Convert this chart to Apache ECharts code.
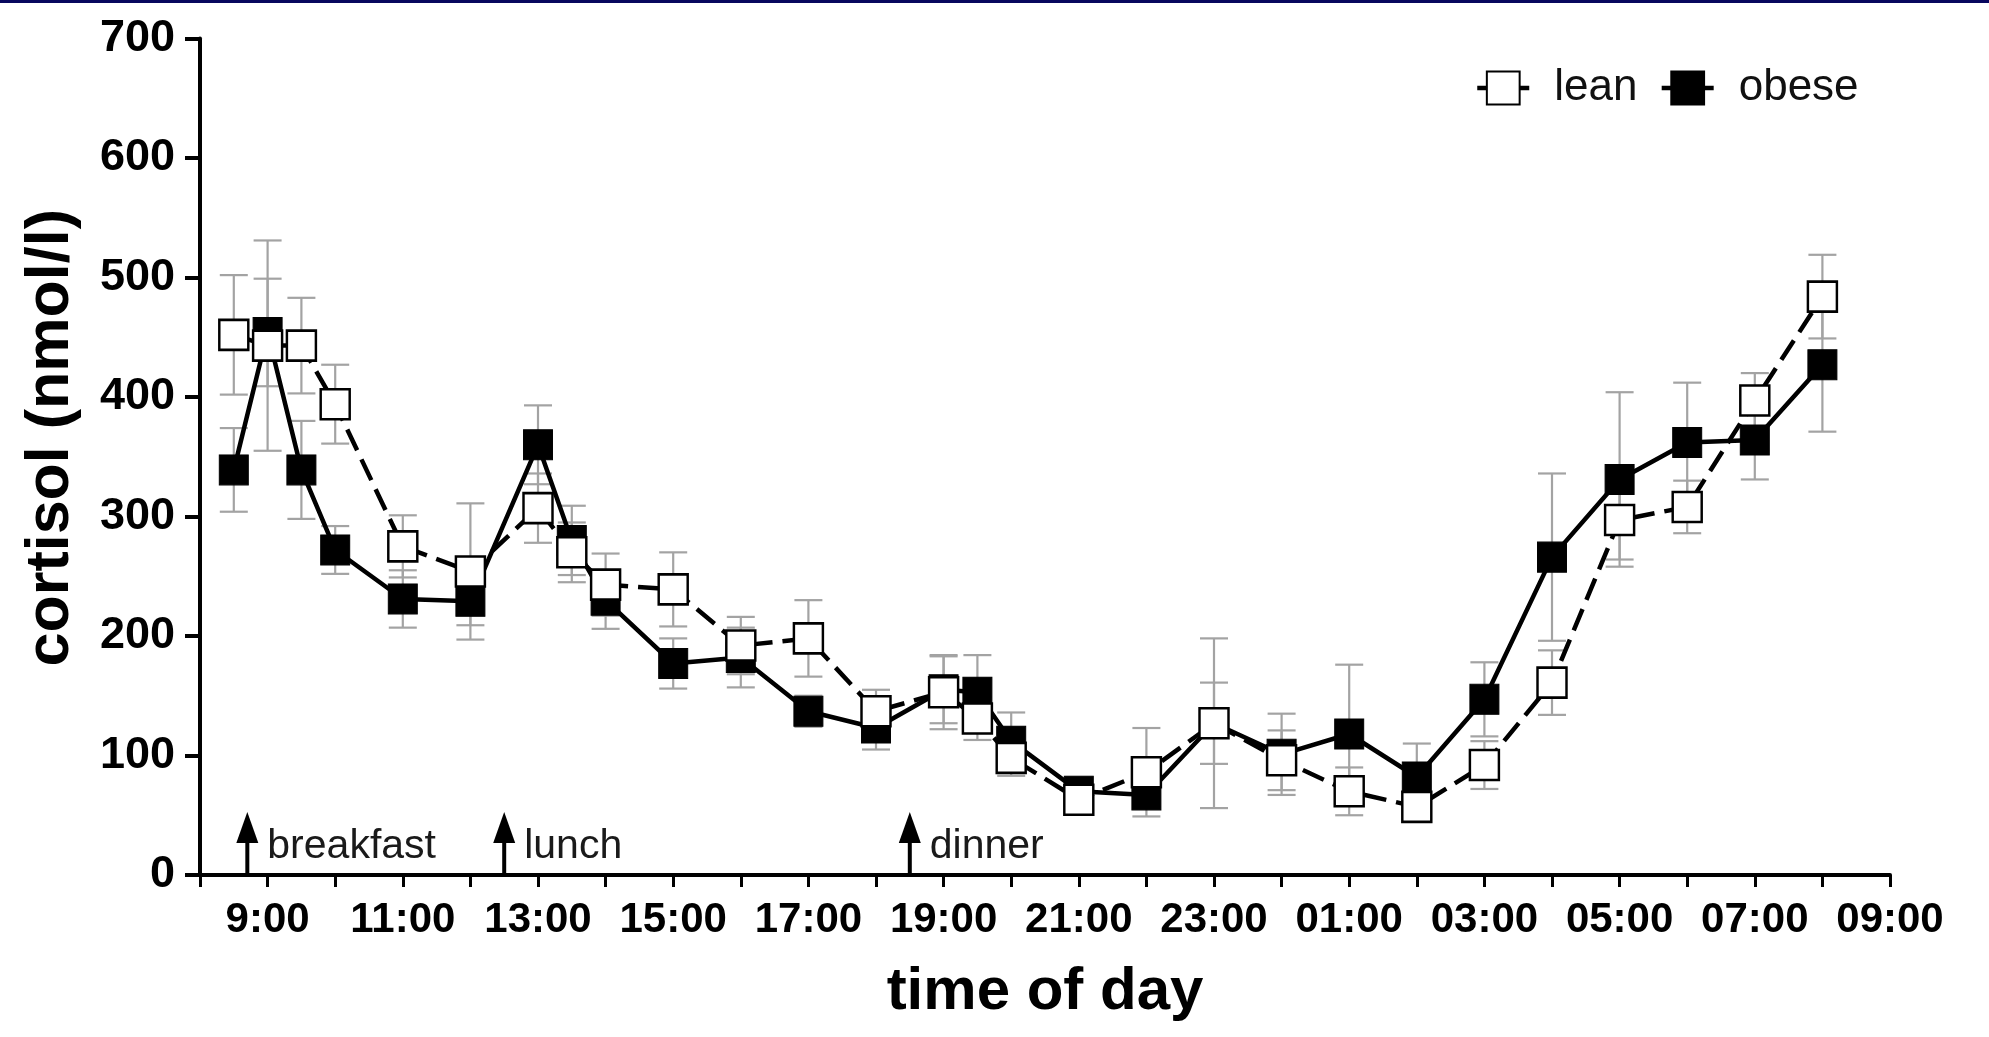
<!DOCTYPE html>
<html><head><meta charset="utf-8">
<script src="https://cdn.jsdelivr.net/npm/echarts@6/dist/echarts.min.js"></script>
<style>html,body{margin:0;padding:0;background:#fff}#c{width:1989px;height:1037px}</style>
</head><body><div id="c"></div>
<script>
// ---- data ----
const hours = [8.5,9,9.5,10,11,12,13,13.5,14,15,16,17,18,19,19.5,20,21,22,23,24,25,26,27,28,29,30,31,32];
const leanMean  = [452,443,443,394,275,254,307,270,243,239,192,198,137,153,131,98,63,86,127,96,70,57,92,161,297,308,397,484];
const leanSem   = [50,88,40,33,26,57,29,25,26,31,24,32,18,31,18,15,12,37,71,25,20,10,20,27,33,22,23,35];
const obeseMean = [339,454,339,272,231,229,360,280,230,177,182,137,123,155,153,112,70,67,127,101,118,82,147,266,331,362,364,427];
const obeseSem  = [35,45,41,20,24,20,33,29,24,21,25,13,18,28,31,24,12,10,34,34,58,28,31,70,73,50,33,56];
const xTickHours  = [9,11,13,15,17,19,21,23,25,27,29,31,33];
const xTickLabels = ['9:00','11:00','13:00','15:00','17:00','19:00','21:00','23:00','01:00','03:00','05:00','07:00','09:00'];
const mealHours  = [8.7,12.5,18.5];
const mealLabels = ['breakfast','lunch','dinner'];

// ---- chart ----
const FONT = 'Arial, "Liberation Sans", sans-serif';
const chart = echarts.init(document.getElementById('c'), null, {renderer:'canvas'});

function errRender(params, api) {
  const x = api.value(0), lo = api.value(1), hi = api.value(2);
  const pHi = api.coord([x, hi]), pLo = api.coord([x, lo]);
  const hw = 14;
  const st = {stroke:'#a3a3a3', lineWidth:2.2};
  return {type:'group', children:[
    {type:'line', shape:{x1:pHi[0],y1:pHi[1],x2:pLo[0],y2:pLo[1]}, style:st},
    {type:'line', shape:{x1:pHi[0]-hw,y1:pHi[1],x2:pHi[0]+hw,y2:pHi[1]}, style:st},
    {type:'line', shape:{x1:pLo[0]-hw,y1:pLo[1],x2:pLo[0]+hw,y2:pLo[1]}, style:st}
  ]};
}
function mealRender(params, api) {
  const i = params.dataIndex;
  const base = api.coord([api.value(0), 0]);
  const x = base[0], y = base[1];
  return {type:'group', children:[
    {type:'line', shape:{x1:x,y1:y,x2:x,y2:y-36}, style:{stroke:'#000', lineWidth:4}},
    {type:'polygon', shape:{points:[[x-11,y-32],[x+11,y-32],[x,y-63]]}, style:{fill:'#000'}},
    {type:'text', x:x+20, y:y-28, style:{text:mealLabels[i], font:'41px ' + FONT, fill:'#1a1a1a', align:'left', verticalAlign:'middle'}}
  ]};
}

const errData = (means, sems) => hours.map((h,i)=>[h, means[i]-sems[i], means[i]+sems[i]]);

chart.setOption({
  animation:false,
  backgroundColor:'#fff',
  grid:{left:200, right:99, top:38.5, bottom:162, outerBoundsMode:'none'},
  graphic:[{type:'rect', shape:{x:0,y:0,width:1989,height:3}, style:{fill:'#07075e'}, silent:true}],
  legend:{
    data:['lean','obese'], left:1470, top:61, itemWidth:52, itemHeight:41, itemGap:22,
    selectedMode:false,
    textStyle:{fontSize:44, fontFamily:FONT, color:'#111', padding:[0,0,0,20]},
    lineStyle:{type:'solid', width:4.5}
  },
  xAxis:{
    type:'value', min:8, max:33, interval:1,
    axisLine:{show:true, lineStyle:{color:'#000', width:4}},
    axisTick:{show:true, length:12, lineStyle:{color:'#000', width:3}},
    splitLine:{show:false},
    axisLabel:{
      fontSize:42, fontWeight:'bold', color:'#000', fontFamily:FONT, margin:24,
      formatter:(v)=>{ const k = xTickHours.indexOf(v); return k>=0 ? xTickLabels[k] : ''; }
    },
    name:'time of day', nameLocation:'middle', nameGap:87,
    nameTextStyle:{fontSize:60, fontWeight:'bold', color:'#000', fontFamily:FONT}
  },
  yAxis:{
    type:'value', min:0, max:700, interval:100,
    axisLine:{show:true, lineStyle:{color:'#000', width:4}},
    axisTick:{show:true, length:15, lineStyle:{color:'#000', width:4}},
    splitLine:{show:false},
    axisLabel:{fontSize:45, fontWeight:'bold', color:'#000', fontFamily:FONT, margin:25},
    name:'cortisol (nmol/l)', nameLocation:'middle', nameGap:118,
    nameTextStyle:{fontSize:61, fontWeight:'bold', color:'#000', fontFamily:FONT, padding:[0,0,0,38]}
  },
  series:[
    {type:'custom', name:'obese err', renderItem:errRender, data:errData(obeseMean, obeseSem), encode:{x:0, y:[1,2]}, z:1, silent:true},
    {type:'custom', name:'lean err', renderItem:errRender, data:errData(leanMean, leanSem), encode:{x:0, y:[1,2]}, z:1, silent:true},
    {type:'line', name:'obese', data:hours.map((h,i)=>[h, obeseMean[i]]), symbol:'rect', symbolSize:[29,30], showAllSymbol:true,
     lineStyle:{color:'#000', width:4.5}, itemStyle:{color:'#000', borderColor:'#000', borderWidth:1}, emphasis:{disabled:true}, z:3},
    {type:'line', name:'lean', data:hours.map((h,i)=>[h, leanMean[i]]), symbol:'rect', symbolSize:[29,30], showAllSymbol:true,
     lineStyle:{color:'#000', width:4.5, type:[23,10]}, itemStyle:{color:'#fff', borderColor:'#000', borderWidth:2.5}, emphasis:{disabled:true}, z:4},
    {type:'custom', name:'meals', renderItem:mealRender, data:mealHours.map(h=>[h,0]), encode:{x:0, y:1}, z:5, silent:true, clip:false}
  ]
});
</script></body></html>
